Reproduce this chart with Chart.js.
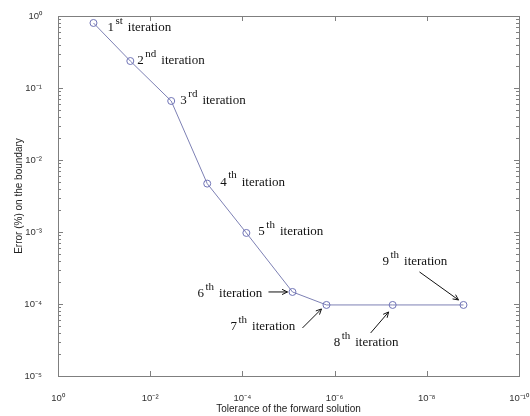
<!DOCTYPE html>
<html>
<head>
<meta charset="utf-8">
<script src="https://cdn.jsdelivr.net/npm/chart.js@4"></script>
<style>
html,body{margin:0;padding:0;background:#fff;}
#wrap{width:530px;height:416px;}
</style>
</head>
<body>
<div id="wrap"><canvas id="c" width="530" height="416"></canvas></div>
<script>
// ---- data ----
const tolerance = [0.17, 0.027, 0.0035, 5.8e-4, 8.2e-5, 8.2e-6, 1.5e-6, 5.5e-8, 1.6e-9];
const errorPct  = [0.8, 0.237, 0.066, 4.7e-3, 9.7e-4, 1.47e-4, 9.7e-5, 9.7e-5, 9.7e-5];
const iterNumbers  = ["1", "2", "3", "4", "5", "6", "7", "8", "9"];
const iterSuffixes = ["st", "nd", "rd", "th", "th", "th", "th", "th", "th"];
const xTickExponents = [0, -2, -4, -6, -8, -10];
const yTickExponents = [0, -1, -2, -3, -4, -5];
const xTitle = "Tolerance of the forward solution";
const yTitle = "Error (%) on the boundary";

const supMap = {"-":"\u207B","0":"\u2070","1":"\u00B9","2":"\u00B2","3":"\u00B3","4":"\u2074","5":"\u2075","6":"\u2076","7":"\u2077","8":"\u2078","9":"\u2079"};
function powLabel(e){ return "10" + String(e).split("").map(c=>supMap[c]).join(""); }

// annotation layout (offsets from each point, px) and arrows
const annLayout = [
  {dx:14, dy:5},
  {dx:7, dy:0},
  {dx:9, dy:0},
  {dx:13, dy:-1},
  {dx:12, dy:-1},
  {dx:-95, dy:2, arrow:[-24,0,-5,0]},
  {dx:-96, dy:22, arrow:[-24,23,-5,4]},
  {dx:-59, dy:38, arrow:[-22,28,-4,7]},
  {dx:-81, dy:-43, arrow:[-44,-33,-5,-5]}
];

const frameColor = "#7f7f7f";

const framePlugin = {
  id: 'frame',
  beforeDatasetsDraw(chart){
    const {ctx, chartArea:a, scales:{x, y}} = chart;
    ctx.save();
    ctx.strokeStyle = frameColor;
    ctx.lineWidth = 1;
    ctx.strokeRect(Math.round(a.left)+0.5, Math.round(a.top)+0.5, Math.round(a.right-a.left), Math.round(a.bottom-a.top));
    ctx.beginPath();
    xTickExponents.forEach(e=>{
      const px = Math.round(x.getPixelForValue(Math.pow(10,e)))+0.5;
      ctx.moveTo(px, a.bottom); ctx.lineTo(px, a.bottom-5);
      ctx.moveTo(px, a.top); ctx.lineTo(px, a.top+5);
    });
    yTickExponents.forEach(e=>{
      for(let m=1;m<=9;m++){
        const v = m*Math.pow(10,e);
        if (v > 1.0000001) continue;
        const py = Math.round(y.getPixelForValue(v))+0.5;
        const len = m===1 ? 5 : 3;
        ctx.moveTo(a.left, py); ctx.lineTo(a.left+len, py);
        ctx.moveTo(a.right, py); ctx.lineTo(a.right-len, py);
      }
    });
    ctx.stroke();
    ctx.restore();
  },
  afterDatasetsDraw(chart){
    const {ctx} = chart;
    const meta = chart.getDatasetMeta(0);
    ctx.save();
    ctx.fillStyle = "#111";
    ctx.strokeStyle = "#111";
    ctx.textBaseline = "middle";
    meta.data.forEach((pt, i)=>{
      const L = annLayout[i];
      let tx = pt.x + L.dx, ty = pt.y + L.dy;
      ctx.font = "13px 'Liberation Serif', 'Times New Roman', serif";
      ctx.fillText(iterNumbers[i], tx, ty);
      tx += ctx.measureText(iterNumbers[i]).width + 1.5;
      ctx.font = "11px 'Liberation Serif', 'Times New Roman', serif";
      ctx.fillText(iterSuffixes[i], tx, ty - 7);
      tx += ctx.measureText(iterSuffixes[i]).width + 5;
      ctx.font = "13px 'Liberation Serif', 'Times New Roman', serif";
      ctx.fillText("iteration", tx, ty);
      if (L.arrow){
        const [x1,y1,x2,y2] = L.arrow;
        const sx = pt.x + x1, sy = pt.y + y1, ex = pt.x + x2, ey = pt.y + y2;
        const ang = Math.atan2(ey-sy, ex-sx);
        ctx.lineWidth = 1;
        ctx.beginPath();
        ctx.moveTo(sx, sy); ctx.lineTo(ex, ey);
        ctx.moveTo(ex - 6*Math.cos(ang-0.45), ey - 6*Math.sin(ang-0.45));
        ctx.lineTo(ex, ey);
        ctx.lineTo(ex - 6*Math.cos(ang+0.45), ey - 6*Math.sin(ang+0.45));
        ctx.stroke();
      }
    });
    ctx.restore();
  }
};

const tickFont = {family: "'Liberation Sans', Arial, sans-serif", size: 9.5};

new Chart(document.getElementById('c'), {
  type: 'line',
  data: {
    datasets: [{
      data: tolerance.map((t,i)=>({x:t, y:errorPct[i]})),
      borderColor: "#7d80b4",
      borderWidth: 1,
      pointStyle: 'circle',
      pointRadius: 3.5,
      pointBorderColor: "#6f73b6",
      pointBackgroundColor: "rgba(255,255,255,0)",
      pointBorderWidth: 1,
      tension: 0,
      fill: false
    }]
  },
  options: {
    responsive: false,
    animation: false,
    devicePixelRatio: 1,
    layout: {padding: {left: 4, right: 11, top: 16, bottom: 0}},
    plugins: {legend: {display: false}, tooltip: {enabled: false}},
    scales: {
      x: {
        type: 'logarithmic',
        reverse: true,
        min: 1e-10, max: 1,
        grid: {display: false},
        border: {display: false},
        afterBuildTicks(s){ s.ticks = xTickExponents.map(e=>({value: Math.pow(10,e)})); },
        afterFit(s){ s.height = 40; s.paddingLeft = 0; s.paddingRight = 0; },
        ticks: {
          autoSkip: false, maxRotation: 0, padding: 9,
          color: "#333", font: tickFont,
          callback(v){ return powLabel(Math.round(Math.log10(v))); }
        },
        title: {display: true, text: xTitle, color: "#222",
          font: {family: "'Liberation Sans', Arial, sans-serif", size: 10},
          padding: {top: 0, bottom: 1}}
      },
      y: {
        type: 'logarithmic',
        min: 1e-5, max: 1,
        grid: {display: false},
        border: {display: false},
        afterBuildTicks(s){ s.ticks = yTickExponents.map(e=>({value: Math.pow(10,e)})); },
        afterFit(s){ s.width = 54; s.paddingTop = 0; s.paddingBottom = 0; },
        ticks: {
          autoSkip: false, padding: 8,
          color: "#333", font: tickFont,
          callback(v){ return powLabel(Math.round(Math.log10(v))); }
        },
        title: {display: true, text: yTitle, color: "#222",
          font: {family: "'Liberation Sans', Arial, sans-serif", size: 10},
          padding: {top: 9, bottom: 4}}
      }
    }
  },
  plugins: [framePlugin]
});
</script>
</body>
</html>
